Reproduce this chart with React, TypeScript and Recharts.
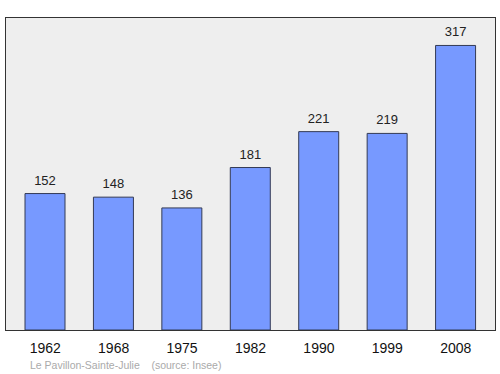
import { BarChart, Bar, XAxis, YAxis, CartesianGrid, LabelList } from "recharts";

const years = ["1962", "1968", "1975", "1982", "1990", "1999", "2008"];
const population = [152, 148, 136, 181, 221, 219, 317];

const data = years.map((year, i) => ({ year, population: population[i] }));

export default function App() {
  return (
    <div
      style={{
        position: "absolute",
        top: 0,
        left: 0,
        width: 500,
        height: 374,
        background: "#fff",
        fontFamily: "'Liberation Sans', Arial, sans-serif",
      }}
    >
      <BarChart
        width={500}
        height={374}
        data={data}
        margin={{ top: 17, right: 4, left: 5, bottom: 14 }}
      >
        <CartesianGrid fill="#eeeeee" horizontal={false} vertical={false} />
        <XAxis
          dataKey="year"
          height={30}
          padding={{ left: 6, right: 6 }}
          tickLine={false}
          axisLine={false}
          tickMargin={7}
          tick={{ fill: "#111", fontSize: 14 }}
          interval={0}
        />
        <YAxis hide domain={[0, 348.7]} />
        <Bar
          dataKey="population"
          fill="#7799ff"
          stroke="#333a55"
          strokeWidth={1}
          barSize={40}
          isAnimationActive={false}
        >
          <LabelList
            dataKey="population"
            position="top"
            offset={9}
            fill="#222"
            fontSize={13}
          />
        </Bar>
      </BarChart>
      <div
        style={{
          position: "absolute",
          left: 5,
          top: 17,
          width: 491,
          height: 314,
          boxSizing: "border-box",
          border: "1.5px solid #333",
          pointerEvents: "none",
        }}
      />
      <div
        style={{
          position: "absolute",
          left: 30,
          top: 359,
          fontSize: 10.5,
          color: "#aaaaaa",
          whiteSpace: "pre",
        }}
      >
        {"Le Pavillon-Sainte-Julie    (source: Insee)"}
      </div>
    </div>
  );
}
